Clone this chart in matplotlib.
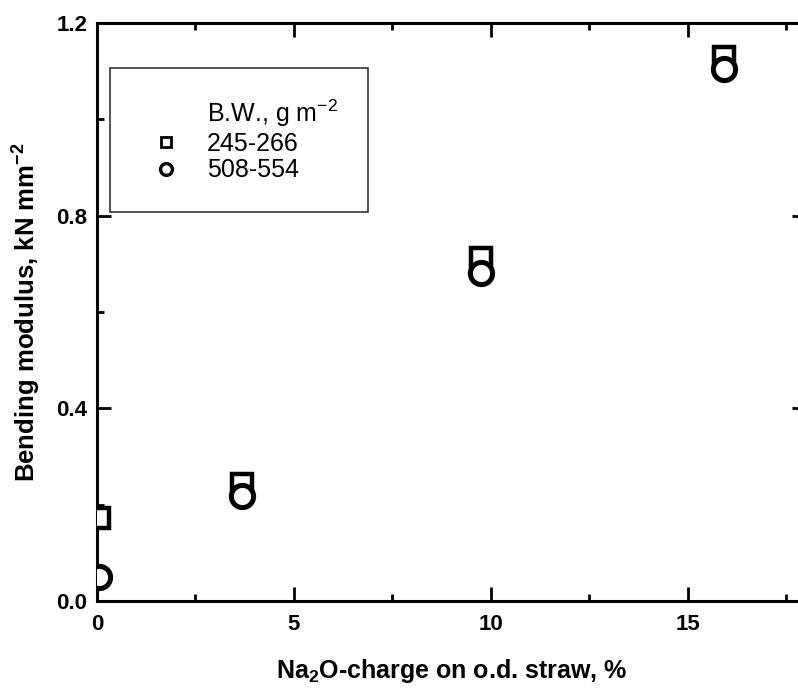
import numpy as np
import matplotlib
matplotlib.use("Agg")
import matplotlib.pyplot as plt
from matplotlib.lines import Line2D
from matplotlib.ticker import MultipleLocator, FormatStrFormatter

plt.rcParams['font.family'] = ['Liberation Sans', 'DejaVu Sans']
plt.rcParams['mathtext.fontset'] = 'custom'
plt.rcParams['mathtext.rm'] = 'Liberation Sans'
plt.rcParams['mathtext.bf'] = 'Liberation Sans:bold'

# data
charge_low = [0.05, 3.67, 9.76, 15.91]
modulus_low = [0.172, 0.243, 0.712, 1.129]
charge_high = [0.05, 3.67, 9.76, 15.91]
modulus_high = [0.050, 0.218, 0.681, 1.104]
series_labels = ['245-266', '508-554']

fig = plt.figure(figsize=(7.98, 6.91), dpi=100)
ax = fig.add_axes([97/798, 90/691, 709/798, 578/691])

ax.plot(charge_low, modulus_low, linestyle='none', marker='s', ms=14,
        mfc='white', mec='black', mew=3.2, zorder=3)
ax.plot(charge_high, modulus_high, linestyle='none', marker='o', ms=16,
        mfc='white', mec='black', mew=3.6, zorder=4)

ax.set_xlim(0, 18)
ax.set_ylim(0, 1.2)
ax.xaxis.set_major_locator(MultipleLocator(5))
ax.xaxis.set_minor_locator(MultipleLocator(2.5))
ax.yaxis.set_major_locator(MultipleLocator(0.4))
ax.yaxis.set_minor_locator(MultipleLocator(0.2))
ax.yaxis.set_major_formatter(FormatStrFormatter('%.1f'))

ax.tick_params(which='both', direction='in', top=True, right=True, width=2)
ax.tick_params(which='major', length=10, labelsize=16)
ax.tick_params(axis='x', which='major', pad=9)
ax.tick_params(axis='y', which='major', pad=7)
ax.tick_params(which='minor', length=5)
for lab in ax.get_xticklabels() + ax.get_yticklabels():
    lab.set_fontweight('bold')
for sp in ax.spines.values():
    sp.set_linewidth(2.2)

ax.set_xlabel(r'Na$_\mathbf{2}$O-charge on o.d. straw, %', fontsize=18,
              fontweight='bold', labelpad=16)
ax.set_ylabel(r'Bending modulus, kN mm$^\mathbf{-2}$', fontsize=18.5,
              fontweight='bold', labelpad=10)

handles = [Line2D([], [], linestyle='none'),
           Line2D([], [], linestyle='none', marker='s', ms=7.5, mfc='white',
                  mec='black', mew=2),
           Line2D([], [], linestyle='none', marker='o', ms=8.5, mfc='white',
                  mec='black', mew=2.4)]
labels = [r'B.W., g m$^{-2}$'] + series_labels
leg = ax.legend(handles, labels, loc='upper left', bbox_to_anchor=(0.018, 0.922),
                fontsize=18, frameon=True, fancybox=False, edgecolor='black',
                handlelength=2.08, handletextpad=0.6, borderpad=1.2,
                labelspacing=0.1, borderaxespad=0)
leg.get_frame().set_linewidth(1.2)

fig.savefig('out.png', dpi=100)
